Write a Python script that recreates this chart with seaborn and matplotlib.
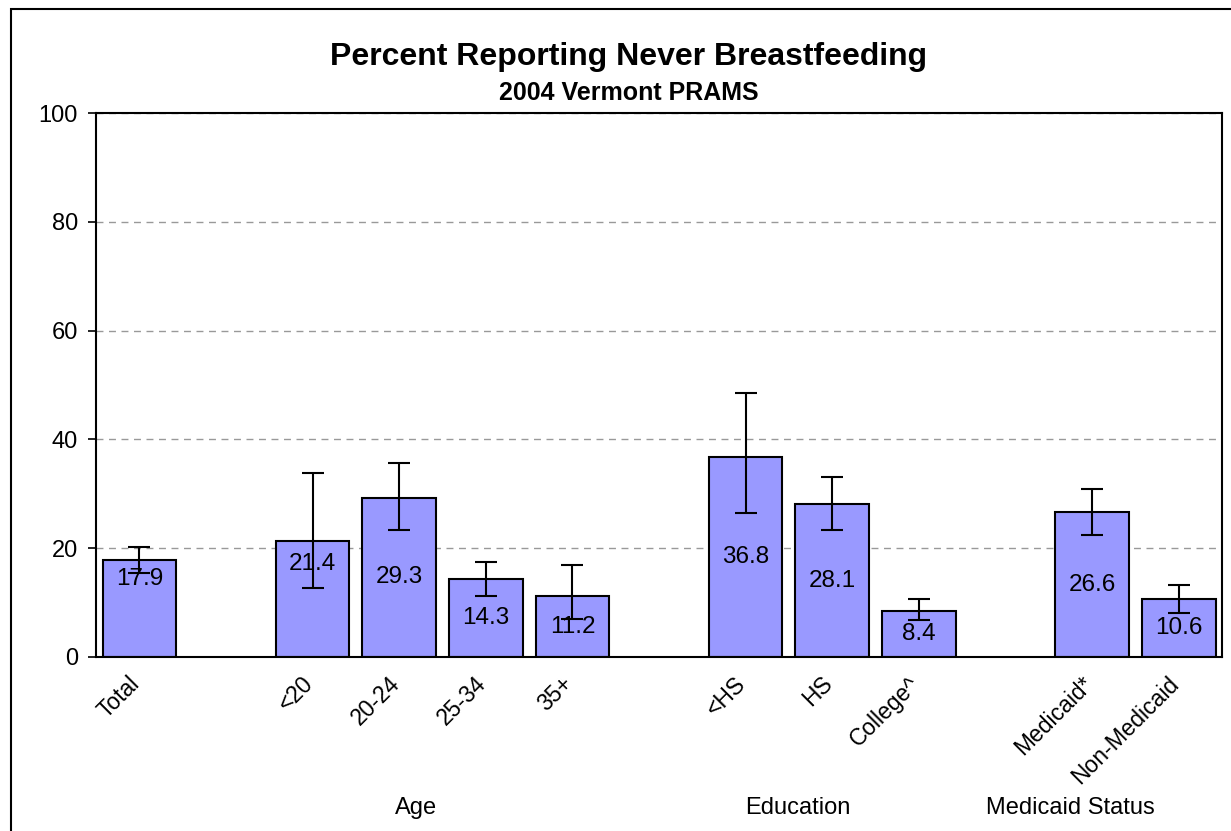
import pandas as pd
import seaborn as sns
import matplotlib.pyplot as plt
from matplotlib.patches import Rectangle
from matplotlib.transforms import ScaledTranslation

# data
categories = ['Total', '<20', '20-24', '25-34', '35+', '<HS', 'HS', 'College^', 'Medicaid*', 'Non-Medicaid']
percent = [17.9, 21.4, 29.3, 14.3, 11.2, 36.8, 28.1, 8.4, 26.6, 10.6]
ci_low = [15.4, 12.7, 23.4, 11.3, 7.0, 26.4, 23.4, 6.8, 22.4, 8.0]
ci_high = [20.2, 33.8, 35.7, 17.5, 16.9, 48.5, 33.0, 10.6, 30.9, 13.2]
groups = ['Age', 'Education', 'Medicaid Status']

# empty slots between groups
order = ['Total', ' ', '<20', '20-24', '25-34', '35+', '  ', '<HS', 'HS', 'College^', '   ', 'Medicaid*', 'Non-Medicaid']

df = pd.DataFrame({'category': categories, 'percent': percent})

sns.set_style('white')
plt.rcParams['font.family'] = ['Liberation Sans', 'DejaVu Sans']
plt.rcParams['text.color'] = 'black'
plt.rcParams['xtick.color'] = 'black'
plt.rcParams['ytick.color'] = 'black'

fig = plt.figure(figsize=(12.31, 8.31), dpi=100)
ax = fig.add_axes([0.078, 0.2094, 0.9147, 0.6546])

sns.barplot(data=df, x='category', y='percent', order=order, color='#9999FF',
            saturation=1, width=0.85, edgecolor='black', linewidth=1.5, ax=ax)

# error bars
xpos = [order.index(c) for c in categories]
yerr = [[p - lo for p, lo in zip(percent, ci_low)], [hi - p for p, hi in zip(percent, ci_high)]]
ax.errorbar(xpos, percent, yerr=yerr, fmt='none', ecolor='black', elinewidth=1.5,
            capsize=8, capthick=1.5, zorder=3)

# value labels
labels = ax.bar_label(ax.containers[0], labels=[f'{v:.1f}' for v in percent],
                      label_type='center', fontsize=17.5, color='black', zorder=4)
labels[0].xyann = (0, 21)
labels[1].xyann = (0, 25)

ax.set_ylim(0, 100)
ax.set_xlim(-0.5, len(order) - 0.5)
ax.set_yticks([0, 20, 40, 60, 80, 100])
ax.yaxis.grid(True, linestyle=(0, (5, 4)), color='#999999', linewidth=1)
ax.set_axisbelow(True)
ax.tick_params(axis='y', labelsize=17, length=6, width=1.2, color='black', left=True, pad=7)
ax.tick_params(axis='x', length=0, labelsize=16.5, pad=8)
ax.set_xticks(range(len(order)))
ax.set_xticklabels(order, rotation=45, ha='right', rotation_mode='anchor')
shift = ScaledTranslation(-8 / 72, -3 / 72, fig.dpi_scale_trans)
for lab in ax.get_xticklabels():
    lab.set_transform(lab.get_transform() + shift)
for s in ax.spines.values():
    s.set_color('black')
    s.set_linewidth(1.5)
ax.set_xlabel('')
ax.set_ylabel('')

# group labels under the tick labels
for g, gx in zip(groups, [3.2, 7.6, 10.75]):
    fig.text(ax.transData.transform((gx, 0))[0] / fig.bbox.width, 0.028, g,
             ha='center', va='center', fontsize=17)

fig.text(0.511, 0.932, 'Percent Reporting Never Breastfeeding', ha='center', va='center',
         fontsize=23, fontweight='bold')
fig.text(0.511, 0.888, '2004 Vermont PRAMS', ha='center', va='center',
         fontsize=18, fontweight='bold')

fig.add_artist(Rectangle((0.0089, -0.05), 1.1, 0.989 + 0.05, transform=fig.transFigure,
                         fill=False, edgecolor='black', linewidth=1.5))

plt.savefig('out.png', dpi=100)
